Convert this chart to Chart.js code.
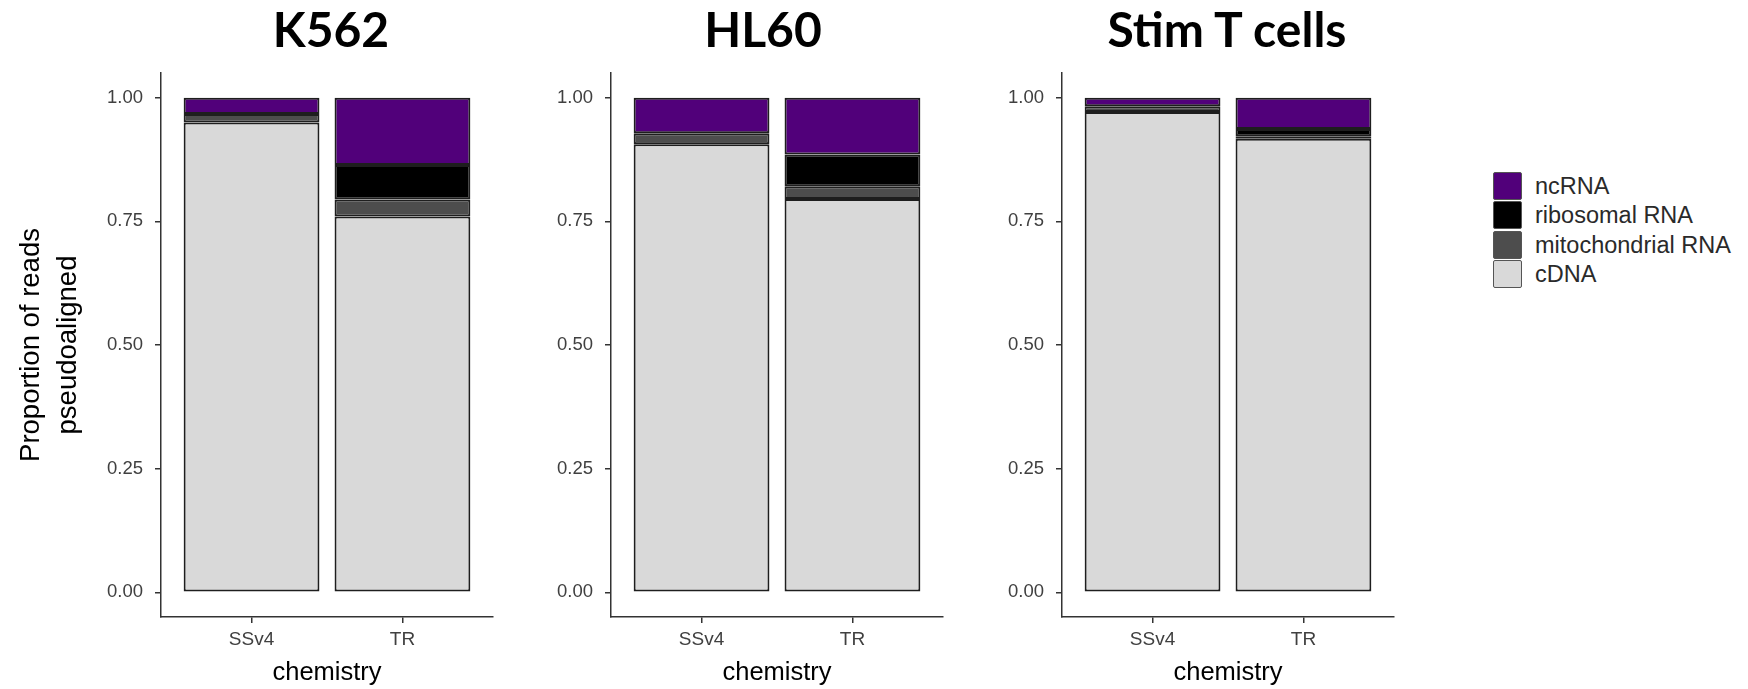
<!DOCTYPE html>
<html><head><meta charset="utf-8">
<script src="https://cdn.jsdelivr.net/npm/chart.js@4.4.0/dist/chart.umd.min.js"></script>
<style>
html,body{margin:0;padding:0;background:#fff;}
#wrap{position:relative;width:1748px;height:689px;overflow:hidden;background:#fff;}
.panel{position:absolute;top:0;height:689px;}
.ptitle{position:absolute;top:5px;width:400px;margin-left:-200px;text-align:center;font-family:Lato,'Liberation Sans',sans-serif;font-weight:bold;font-size:48px;line-height:48px;color:#000;white-space:nowrap;}
.legend{position:absolute;left:1493px;top:172px;font-family:'Liberation Sans',Arial,sans-serif;font-size:23.5px;color:#2a2a2a;}
.item{position:absolute;left:0;height:28px;white-space:nowrap;}
.key{position:absolute;left:0;top:0;width:29px;height:28px;box-sizing:border-box;border:1.5px solid #555;border-radius:2px;}
.lab{position:absolute;left:42px;top:0;line-height:28px;}
</style></head><body>
<div id="wrap"></div>
<script>
// ---- data ----
const panelTitles = ['K562', 'HL60', 'Stim T cells'];
const chemistry = ['SSv4', 'TR'];
const seriesNames = ['cDNA', 'mitochondrial RNA', 'ribosomal RNA', 'ncRNA'];
const seriesColors = ['#D9D9D9', '#4D4D4D', '#000000', '#51007A'];
// per panel: [SSv4, TR]
const cDNA    = [[0.950, 0.760], [0.906, 0.795], [0.971, 0.917]];
const mitoRNA = [[0.017, 0.034], [0.022, 0.026], [0.012, 0.005]];
const riboRNA = [[0.000, 0.070], [0.000, 0.064], [0.000, 0.015]];
const ncRNA   = [[0.033, 0.136], [0.072, 0.115], [0.017, 0.063]];
const yTicks = [0, 0.25, 0.5, 0.75, 1];
const yTitle = ['Proportion of reads', 'pseudoaligned'];
const xTitle = 'chemistry';

// ---- layout ----
const FONT = "'Liberation Sans', Arial, sans-serif";
Chart.defaults.font.family = FONT;
const axisX = [161, 611, 1062];
const titleCenters = [331, 763, 1227];
const plotW = 332;
const wrap = document.getElementById('wrap');
const series = [cDNA, mitoRNA, riboRNA, ncRNA];

function makePanel(p) {
  const left = p === 0 ? 0 : axisX[p] - 120;
  const yWidth = axisX[p] - left;
  const padRight = 12;
  const w = yWidth + plotW + padRight;
  const div = document.createElement('div');
  div.className = 'panel';
  div.style.left = left + 'px';
  div.style.width = w + 'px';
  const cv = document.createElement('canvas');
  div.appendChild(cv);
  wrap.appendChild(div);

  const t = document.createElement('div');
  t.className = 'ptitle';
  t.style.left = titleCenters[p] + 'px';
  t.textContent = panelTitles[p];
  wrap.appendChild(t);

  new Chart(cv, {
    type: 'bar',
    data: {
      datasets: series.map((s, i) => ({
        label: seriesNames[i],
        data: chemistry.map((c, j) => ({ x: j + 1, y: s[p][j] })),
        backgroundColor: seriesColors[i],
        borderColor: '#1e1e1e',
        borderWidth: 2,
        borderSkipped: false,
        barPercentage: 0.9,
        categoryPercentage: 1
      }))
    },
    options: {
      responsive: true,
      maintainAspectRatio: false,
      animation: false,
      devicePixelRatio: 1,
      layout: { padding: { left: 0, right: padRight, top: 73, bottom: 0 } },
      plugins: {
        legend: { display: false },
        tooltip: { enabled: false },
        title: { display: false }
      },
      scales: {
        x: {
          type: 'linear',
          min: 0.4, max: 2.6,
          stacked: true,
          offset: false,
          afterBuildTicks: s => { s.ticks = chemistry.map((c, i) => ({ value: i + 1 })); },
          ticks: {
            callback: v => chemistry[v - 1],
            font: { size: 19 },
            color: '#404040',
            padding: 5,
            autoSkip: false,
            maxRotation: 0
          },
          grid: { display: true, offset: false, drawOnChartArea: false, drawTicks: true, tickLength: 6, color: '#333', lineWidth: 1.5 },
          border: { display: true, color: '#333', width: 1.5 },
          title: { display: true, text: xTitle, color: '#000', font: { size: 25.5, lineHeight: 1.2 }, padding: { top: 0, bottom: 1 } },
          afterFit: s => { s.height = 72; }
        },
        y: {
          min: -0.05, max: 1.05,
          stacked: true,
          afterBuildTicks: s => { s.ticks = yTicks.map(v => ({ value: v })); },
          ticks: {
            callback: v => Number(v).toFixed(2),
            font: { size: 18.5 },
            color: '#404040',
            padding: 12
          },
          grid: { display: true, drawOnChartArea: false, drawTicks: true, tickLength: 6, color: '#333', lineWidth: 1.5 },
          border: { display: true, color: '#333', width: 1.5 },
          title: p === 0 ? {
            display: true, text: yTitle, color: '#000',
            font: { size: 27.5, lineHeight: 1.345 },
            padding: { top: 12.5, bottom: 0 }
          } : { display: false },
          afterFit: s => { s.width = yWidth; }
        }
      }
    }
  });
}
for (let p = 0; p < panelTitles.length; p++) makePanel(p);

// ---- legend (reverse order, as in the reference) ----
const leg = document.createElement('div');
leg.className = 'legend';
for (let k = 0; k < seriesNames.length; k++) {
  const i = seriesNames.length - 1 - k;
  const it = document.createElement('div');
  it.className = 'item';
  it.style.top = (k * 29.4) + 'px';
  const key = document.createElement('div');
  key.className = 'key';
  key.style.background = seriesColors[i];
  const lab = document.createElement('span');
  lab.className = 'lab';
  lab.textContent = seriesNames[i];
  it.appendChild(key); it.appendChild(lab);
  leg.appendChild(it);
}
wrap.appendChild(leg);
</script>
</body></html>
